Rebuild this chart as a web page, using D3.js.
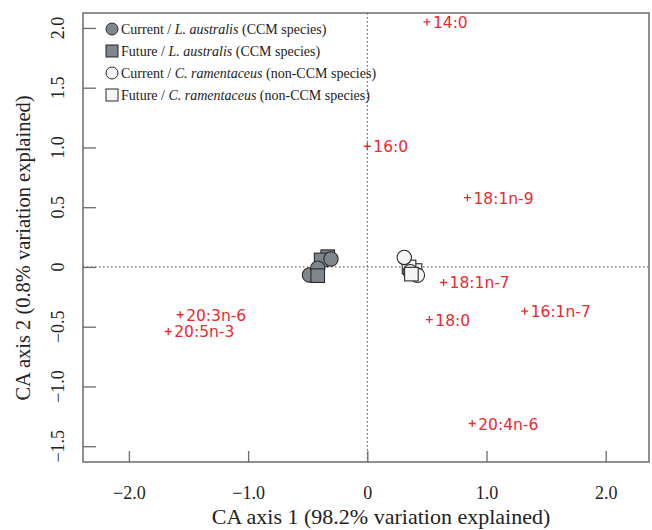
<!DOCTYPE html>
<html>
<head>
<meta charset="utf-8">
<script src="https://cdn.jsdelivr.net/npm/d3@7"></script>
<style>
  html, body { margin: 0; padding: 0; background: #fff; }
  svg { display: block; }
</style>
</head>
<body>
<div id="chart"></div>
<script>
// CA biplot : scores des échantillons (2 espèces x 2 scénarios) + acides gras en rouge

// Acides gras (coordonnées des "+")
const faNames = ["14:0", "16:0", "18:1n-9", "18:1n-7", "16:1n-7", "18:0", "20:3n-6", "20:5n-3", "20:4n-6"]
const faX = [0.50, 0.00, 0.84, 0.64, 1.32, 0.52, -1.57, -1.67, 0.88]
const faY = [2.05, 1.01, 0.58, -0.13, -0.37, -0.44, -0.40, -0.54, -1.31]

// Échantillons
const curLaX = [-0.485, -0.416, -0.305]
const curLaY = [-0.067, -0.011, 0.067]
const futLaX = [-0.332, -0.387, -0.416]
const futLaY = [0.086, 0.059, -0.073]
const curCrX = [0.36, 0.42, 0.31]
const curCrY = [-0.04, -0.07, 0.08]
const futCrX = [0.37, 0.40, 0.35]
const futCrY = [-0.06, -0.03, 0.00]

const xTicks = [-2, -1, 0, 1, 2]
const yTicks = [-1.5, -1, -0.5, 0, 0.5, 1, 1.5, 2]

const legendItems = [
  { shape: "circle", fill: "#7f868d", pre: "Current / ", sp: "L. australis", post: " (CCM species)" },
  { shape: "square", fill: "#7f868d", pre: "Future / ", sp: "L. australis", post: " (CCM species)" },
  { shape: "circle", fill: "#f4f5f5", pre: "Current / ", sp: "C. ramentaceus", post: " (non-CCM species)" },
  { shape: "square", fill: "#f4f5f5", pre: "Future / ", sp: "C. ramentaceus", post: " (non-CCM species)" },
]

const W = 652, H = 530
const box = { left: 83, right: 649, top: 13, bottom: 462 }
const serif = "'Liberation Serif', 'Times New Roman', serif"
const red = "#ea2a30"

const x = d3.scaleLinear().domain([-2.385, 2.363]).range([box.left, box.right])
const y = d3.scaleLinear().domain([-1.632, 2.125]).range([box.bottom, box.top])

const svg = d3.select("#chart").append("svg")
  .attr("width", W).attr("height", H)
  .attr("viewBox", `0 0 ${W} ${H}`)

// Lignes pointillées à l'origine
svg.append("line")
  .attr("x1", x(0)).attr("x2", x(0)).attr("y1", box.top).attr("y2", box.bottom)
  .attr("stroke", "#444").attr("stroke-width", 1).attr("stroke-dasharray", "1.5,2.5")
svg.append("line")
  .attr("x1", box.left).attr("x2", box.right).attr("y1", y(0)).attr("y2", y(0))
  .attr("stroke", "#444").attr("stroke-width", 1).attr("stroke-dasharray", "1.5,2.5")

// Cadre
svg.append("rect")
  .attr("x", box.left).attr("y", box.top)
  .attr("width", box.right - box.left).attr("height", box.bottom - box.top)
  .attr("fill", "none").attr("stroke", "#6b6b6b").attr("stroke-width", 1.5)

const fmtTick = (d) => d === 0 ? "0" : d3.format(".1f")(d).replace("-", "\u2212")

// Axe X : ticks vers l'intérieur
const gx = svg.append("g").attr("transform", `translate(0,${box.bottom})`)
  .call(d3.axisBottom(x).tickValues(xTicks).tickSize(-11).tickPadding(24).tickFormat(fmtTick))
gx.attr("font-family", null)
gx.select(".domain").remove()
gx.selectAll("line").attr("stroke", "#6b6b6b").attr("stroke-width", 1.3)
gx.selectAll("text").style("font-family", serif).attr("font-size", 18).attr("fill", "#222")

// Axe Y : ticks vers l'intérieur, labels tournés
const gy = svg.append("g").attr("transform", `translate(${box.left},0)`)
  .call(d3.axisLeft(y).tickValues(yTicks).tickSize(-13).tickFormat(""))
gy.select(".domain").remove()
gy.selectAll("line").attr("stroke", "#6b6b6b").attr("stroke-width", 1.3)

svg.selectAll("text.ytick")
  .data(yTicks)
  .join("text")
  .attr("class", "ytick")
  .attr("transform", (d) => `translate(64,${y(d)}) rotate(-90)`)
  .attr("text-anchor", "middle")
  .style("font-family", serif).attr("font-size", 18).attr("fill", "#222")
  .text(fmtTick)

// Titres d'axes
svg.append("text")
  .attr("x", 381).attr("y", 524)
  .attr("text-anchor", "middle")
  .style("font-family", serif).attr("font-size", 22).attr("fill", "#222")
  .text("CA axis 1 (98.2% variation explained)")

svg.append("text")
  .attr("transform", `translate(30,248) rotate(-90)`)
  .attr("text-anchor", "middle")
  .style("font-family", serif).attr("font-size", 20.5).attr("fill", "#222")
  .text("CA axis 2 (0.8% variation explained)")

// Acides gras
const fa = faNames.map((n, i) => ({ name: n, x: faX[i], y: faY[i] }))
const faG = svg.append("g")
faG.selectAll("path.plus")
  .data(fa)
  .join("path")
  .attr("class", "plus")
  .attr("d", (d) => {
    const cx = x(d.x), cy = y(d.y), s = 3.5
    return `M${cx - s},${cy}H${cx + s}M${cx},${cy - s}V${cy + s}`
  })
  .attr("stroke", red).attr("stroke-width", 1.3)
faG.selectAll("text")
  .data(fa)
  .join("text")
  .attr("x", (d) => x(d.x) + 6)
  .attr("y", (d) => y(d.y) + 6)
  .style("font-family", "'DejaVu Sans', sans-serif").attr("font-size", 15.5)
  .attr("fill", red)
  .text((d) => d.name)

// Échantillons
const pts = (xs, ys) => xs.map((v, i) => ({ x: v, y: ys[i] }))
const stroke = "#2a2a2a"
const drawCircles = (data, fill) => svg.append("g").selectAll("circle")
  .data(data).join("circle")
  .attr("cx", (d) => x(d.x)).attr("cy", (d) => y(d.y)).attr("r", 7.2)
  .attr("fill", fill).attr("stroke", stroke).attr("stroke-width", 1.1)
const drawSquares = (data, fill) => svg.append("g").selectAll("rect")
  .data(data).join("rect")
  .attr("x", (d) => x(d.x) - 6.8).attr("y", (d) => y(d.y) - 6.8)
  .attr("width", 13.6).attr("height", 13.6)
  .attr("fill", fill).attr("stroke", stroke).attr("stroke-width", 1.1)

drawSquares(pts(futLaX, futLaY).slice(0, 2), "#7f868d")
drawCircles(pts(curLaX, curLaY), "#7f868d")
drawSquares(pts(futLaX, futLaY).slice(2), "#7f868d")
drawSquares(pts(futCrX, futCrY).slice(1), "#f4f5f5")
drawCircles(pts(curCrX, curCrY), "#f4f5f5")
drawSquares(pts(futCrX, futCrY).slice(0, 1), "#f4f5f5")

// Légende
const lg = svg.append("g")
legendItems.forEach((it, i) => {
  const cy = 29 + i * 22
  if (it.shape === "circle") {
    lg.append("circle").attr("cx", 112).attr("cy", cy).attr("r", 6)
      .attr("fill", it.fill).attr("stroke", stroke).attr("stroke-width", 1)
  } else {
    lg.append("rect").attr("x", 106).attr("y", cy - 6).attr("width", 12).attr("height", 12)
      .attr("fill", it.fill).attr("stroke", stroke).attr("stroke-width", 1)
  }
  const t = lg.append("text").attr("x", 121).attr("y", cy + 5)
    .style("font-family", serif).attr("font-size", 14).attr("fill", "#222")
  t.append("tspan").text(it.pre)
  t.append("tspan").attr("font-style", "italic").text(it.sp)
  t.append("tspan").text(it.post)
})
</script>
</body>
</html>
